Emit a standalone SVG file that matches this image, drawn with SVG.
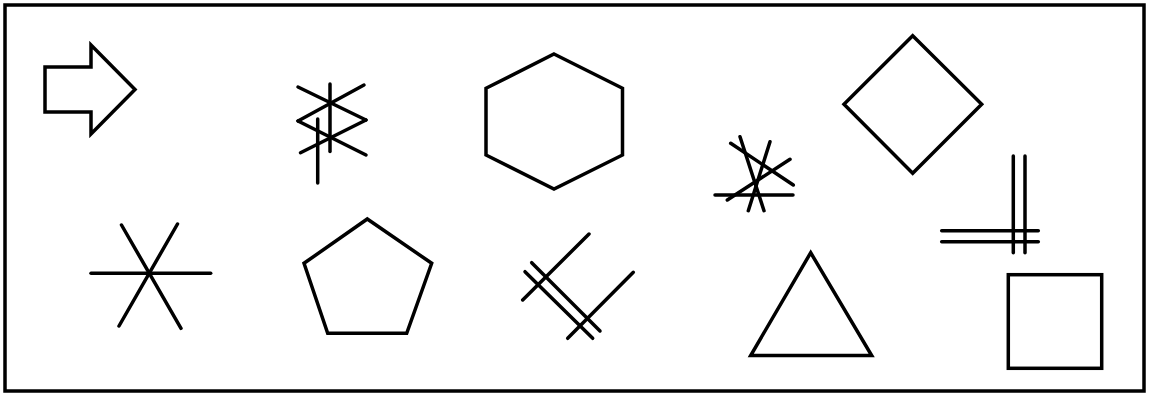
<svg xmlns="http://www.w3.org/2000/svg" width="1149" height="395" viewBox="0 0 1149 395">
<style>
.s{fill:none;stroke:#000;stroke-width:3.5;stroke-linecap:round;stroke-linejoin:miter}
.p{fill:#fff;stroke:#000;stroke-width:3.5;stroke-linejoin:miter}
</style>
<rect x="0" y="0" width="1149" height="395" fill="#fff"/>
<rect id="frame" x="5" y="5" width="1139" height="386" fill="none" stroke="#000" stroke-width="3.5"/>
<g id="arrow"><polygon class="p" points="45,67 91,67 91,45 135,89.5 91,134 91,112 45,112"/></g>
<g id="hexagram-lines" class="s">
<line x1="330" y1="84" x2="330" y2="151.5"/>
<line x1="317.7" y1="119" x2="317.7" y2="183"/>
<line x1="298" y1="87" x2="366" y2="120"/>
<line x1="366" y1="120" x2="300.5" y2="152.7"/>
<line x1="298" y1="121" x2="364" y2="85"/>
<line x1="298" y1="121" x2="366" y2="155"/>
</g>
<g id="hexagon"><polygon class="p" points="554,54 622.5,88.3 622.5,155 554,189 486,155 486,88.3"/></g>
<g id="lines5" class="s">
<line x1="715" y1="195" x2="793" y2="195"/>
<line x1="730.7" y1="143.3" x2="793.3" y2="185"/>
<line x1="740" y1="136.7" x2="764" y2="210.7"/>
<line x1="770" y1="141.7" x2="748.3" y2="210.7"/>
<line x1="790" y1="159.3" x2="727.3" y2="200"/>
</g>
<g id="diamond"><polygon class="p" points="912.7,35.7 981.7,104.3 912.7,173.3 844,104.3"/></g>
<g id="hash" class="s">
<line x1="1013.3" y1="156" x2="1013.3" y2="252.7"/>
<line x1="1025" y1="156" x2="1025" y2="252.7"/>
<line x1="941.7" y1="230.7" x2="1038.3" y2="230.7"/>
<line x1="941.7" y1="241.7" x2="1038.3" y2="241.7"/>
</g>
<g id="asterisk" class="s">
<line x1="91" y1="273.3" x2="210.7" y2="273.3"/>
<line x1="121.5" y1="225" x2="181" y2="328.3"/>
<line x1="177.5" y1="224" x2="119" y2="326"/>
</g>
<g id="pentagon"><polygon class="p" points="367.3,219 431.7,263.3 406.7,333.3 327.7,333.3 304,263.3"/></g>
<g id="cross-lines" class="s">
<line x1="589" y1="234" x2="522.7" y2="300"/>
<line x1="633.3" y1="272.3" x2="567.7" y2="338.3"/>
<line x1="531.7" y1="262.7" x2="600" y2="331"/>
<line x1="525" y1="271.7" x2="592.7" y2="338.3"/>
</g>
<g id="triangle"><polygon class="p" points="810.7,252.7 871.7,355.5 750.7,355.5"/></g>
<g id="square"><rect class="p" x="1008.3" y="274.7" width="93.4" height="93.6" stroke-width="4"/></g>
</svg>
